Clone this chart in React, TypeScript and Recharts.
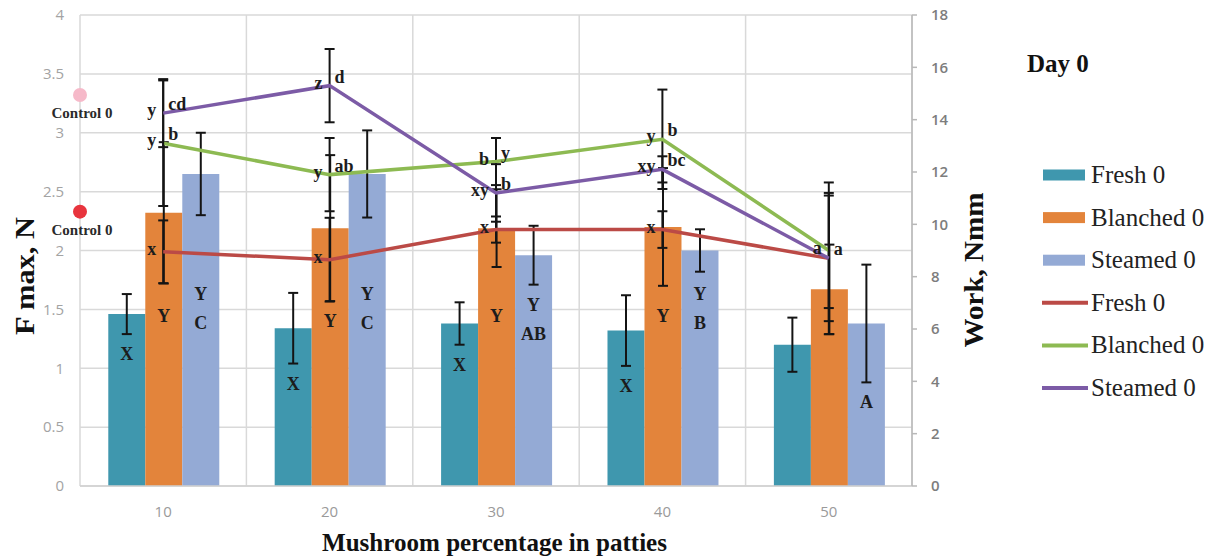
import React from "react";
import {
  ComposedChart,
  Bar,
  Line,
  Scatter,
  Cell,
  XAxis,
  YAxis,
  CartesianGrid,
  ErrorBar,
  LabelList,
} from "recharts";

const percentages = ["10", "20", "30", "40", "50"];

// F max, N (bars, left axis)
const fmaxFresh = [1.46, 1.34, 1.38, 1.32, 1.2];
const fmaxFreshErr = [0.17, 0.3, 0.18, 0.3, 0.23];
const fmaxBlanched = [2.32, 2.19, 2.19, 2.2, 1.67];
const fmaxBlanchedErr = [0.6, 0.62, 0.33, 0.5, 0.38];
const fmaxSteamed = [2.65, 2.65, 1.96, 2.0, 1.38];
const fmaxSteamedErr = [0.35, 0.37, 0.25, 0.18, 0.5];

// Work, Nmm (lines, right axis)
const workFresh = [8.95, 8.65, 9.8, 9.8, 8.7];
const workFreshErr = [1.2, 1.6, 0.5, 0.7, 2.9];
const workBlanched = [13.1, 11.9, 12.4, 13.25, 9.0];
const workBlanchedErr = [2.4, 1.4, 0.9, 1.9, 2.2];
const workSteamed = [14.25, 15.3, 11.2, 12.1, 8.7];
const workSteamedErr = [1.3, 1.4, 1.1, 0.5, 2.4];

// significance letters
const freshBarLetters = ["X", "X", "X", "X", ""];
const blanchedBarLetters = ["Y", "Y", "Y", "Y", ""];
const steamedBarLetters = ["Y", "Y", "Y", "Y", "A"];
const steamedBarSubLetters = ["C", "C", "AB", "B", ""];
const freshLineLeft = ["x", "x", "x", "x", ""];
const blanchedLineLeft = ["y", "y", "b", "y", "a"];
const blanchedLineRight = ["b", "ab", "y", "b", ""];
const steamedLineLeft = ["y", "z", "xy", "xy", ""];
const steamedLineRight = ["cd", "d", "b", "bc", "a"];

// control samples (left axis, drawn on the axis itself)
const controlValues = [3.32, 2.33];
const controlLabels = ["Control 0", "Control 0"];

const leftTicks = [0, 0.5, 1, 1.5, 2, 2.5, 3, 3.5, 4];
const rightTicks = [0, 2, 4, 6, 8, 10, 12, 14, 16, 18];
const slotTicks = [0, 1, 2, 3, 4, 5];

const legendLabels = ["Fresh 0", "Blanched 0", "Steamed 0", "Fresh 0", "Blanched 0", "Steamed 0"];

const data = percentages.map((pct, i) => ({
  pct,
  fresh: fmaxFresh[i],
  freshErr: fmaxFreshErr[i],
  blanched: fmaxBlanched[i],
  blanchedErr: fmaxBlanchedErr[i],
  steamed: fmaxSteamed[i],
  steamedErr: fmaxSteamedErr[i],
  wFresh: workFresh[i],
  wFreshErr: workFreshErr[i],
  wBlanched: workBlanched[i],
  wBlanchedErr: workBlanchedErr[i],
  wSteamed: workSteamed[i],
  wSteamedErr: workSteamedErr[i],
  freshLetter: freshBarLetters[i],
  blanchedLetter: blanchedBarLetters[i],
  steamedLetter: steamedBarLetters[i],
  wFreshL: freshLineLeft[i],
  wBlanchedL: blanchedLineLeft[i],
  wBlanchedR: blanchedLineRight[i],
  wSteamedL: steamedLineLeft[i],
  wSteamedR: steamedLineRight[i],
}));

const controlData = controlValues.map((v, i) => ({
  slot: 0,
  control: v,
  name: controlLabels[i],
}));

const serif = "Liberation Serif, Times New Roman, serif";
const sans = "Open Sans, Liberation Sans, sans-serif";

const colors = {
  fresh: "#3f97ae",
  blanched: "#e3843b",
  steamed: "#94aad5",
  wFresh: "#bb4a46",
  wBlanched: "#8dba52",
  wSteamed: "#7c5ba6",
};
const controlColors = ["#f6b9c9", "#e8343d"];
const legendColors = [colors.fresh, colors.blanched, colors.steamed, colors.wFresh, colors.wBlanched, colors.wSteamed];

function box(p: any) {
  const vb = p.viewBox ?? {};
  return {
    x: Number(p.x ?? vb.x ?? 0),
    y: Number(p.y ?? vb.y ?? 0),
    width: Number(p.width ?? vb.width ?? 0),
    height: Number(p.height ?? vb.height ?? 0),
  };
}

const letterStyle = {
  fontFamily: serif,
  fontWeight: 700,
  fontSize: 18,
  fill: "#1c1c1c",
};

// letter under the error bar of a bar; floor keeps it from climbing too high
function barLetter(values: number[], errs: number[], floor: number | null, subs?: string[]) {
  return (p: any) => {
    if (!p.value) return null;
    const b = box(p);
    const i = p.index ?? 0;
    const perUnit = b.height / values[i];
    let cy = b.y + perUnit * errs[i] + 20;
    if (floor !== null) cy = Math.max(cy, b.y + b.height - floor);
    const cx = b.x + b.width / 2;
    return (
      <g>
        <text x={cx} y={cy} textAnchor="middle" dominantBaseline="central" style={letterStyle}>
          {p.value}
        </text>
        {subs && subs[i] ? (
          <text x={cx} y={cy + 29} textAnchor="middle" dominantBaseline="central" style={letterStyle}>
            {subs[i]}
          </text>
        ) : null}
      </g>
    );
  };
}

function pointLetter(side: "left" | "right") {
  return (p: any) => {
    if (!p.value) return null;
    const b = box(p);
    const left = side === "left";
    return (
      <text
        x={left ? b.x - 7 : b.x + 5}
        y={left ? b.y - 3 : b.y - 9}
        textAnchor={left ? "end" : "start"}
        dominantBaseline="central"
        style={letterStyle}
      >
        {p.value}
      </text>
    );
  };
}

function controlLabel(p: any) {
  const b = box(p);
  const cx = b.x + b.width / 2;
  const cy = b.y + b.height / 2;
  return (
    <text
      x={cx + 2}
      y={cy + 18}
      textAnchor="middle"
      dominantBaseline="central"
      style={{ fontFamily: serif, fontWeight: 700, fontSize: 15, fill: "#2a2a2a" }}
    >
      {p.value}
    </text>
  );
}

const titleStyle = { fontFamily: serif, fontWeight: 700, fill: "#111" };
const legendTextStyle = { fontFamily: serif, fontWeight: 400, fontSize: 25, fill: "#222" };

export default function App() {
  return (
    <div style={{ position: "absolute", left: 0, top: 0, width: 1222, height: 558, background: "#fff" }}>
      <ComposedChart
        width={1222}
        height={558}
        data={data}
        margin={{ top: 15, right: 0, bottom: 0, left: 0 }}
        barCategoryGap="17%"
        barGap={0}
      >
        <XAxis xAxisId="num" type="number" dataKey="slot" domain={[0, 5]} ticks={slotTicks} hide />
        <CartesianGrid xAxisId="num" yAxisId="left" stroke="#d9d9d9" strokeWidth={1.5} />
        <XAxis
          dataKey="pct"
          height={72}
          stroke="#d0d0d0"
          strokeWidth={1.5}
          tickLine={false}
          tickSize={0}
          tickMargin={20}
          tick={{ fill: "#9a9a9a", fontSize: 15, fontFamily: sans }}
        />
        <YAxis
          yAxisId="left"
          width={80}
          domain={[0, 4]}
          ticks={leftTicks}
          axisLine={false}
          tickLine={false}
          tickSize={0}
          tickMargin={16}
          tick={{ fill: "#a3a3a3", fontSize: 15, fontFamily: sans }}
        />
        <YAxis
          yAxisId="right"
          orientation="right"
          width={310}
          domain={[0, 18]}
          ticks={rightTicks}
          stroke="#b8b8b8"
          strokeWidth={1.5}
          tickSize={5}
          tickMargin={14}
          tick={{ fill: "#7d7d7d", fontSize: 15, fontFamily: sans, fontWeight: 600 }}
        />

        <Bar yAxisId="left" dataKey="fresh" fill={colors.fresh} isAnimationActive={false}>
          <ErrorBar dataKey="freshErr" width={5} stroke="#141414" strokeWidth={2} />
          <LabelList dataKey="freshLetter" content={barLetter(fmaxFresh, fmaxFreshErr, null)} />
        </Bar>
        <Bar yAxisId="left" dataKey="blanched" fill={colors.blanched} isAnimationActive={false}>
          <ErrorBar dataKey="blanchedErr" width={5} stroke="#141414" strokeWidth={2} />
          <LabelList dataKey="blanchedLetter" content={barLetter(fmaxBlanched, fmaxBlanchedErr, 170)} />
        </Bar>
        <Bar yAxisId="left" dataKey="steamed" fill={colors.steamed} isAnimationActive={false}>
          <ErrorBar dataKey="steamedErr" width={5} stroke="#141414" strokeWidth={2} />
          <LabelList
            dataKey="steamedLetter"
            content={barLetter(fmaxSteamed, fmaxSteamedErr, 192, steamedBarSubLetters)}
          />
        </Bar>

        <Line
          yAxisId="right"
          dataKey="wFresh"
          stroke={colors.wFresh}
          strokeWidth={3.5}
          dot={false}
          isAnimationActive={false}
        >
          <ErrorBar dataKey="wFreshErr" width={5} stroke="#141414" strokeWidth={2} />
          <LabelList dataKey="wFreshL" content={pointLetter("left")} />
        </Line>
        <Line
          yAxisId="right"
          dataKey="wBlanched"
          stroke={colors.wBlanched}
          strokeWidth={3.5}
          dot={false}
          isAnimationActive={false}
        >
          <ErrorBar dataKey="wBlanchedErr" width={5} stroke="#141414" strokeWidth={2} />
          <LabelList dataKey="wBlanchedL" content={pointLetter("left")} />
          <LabelList dataKey="wBlanchedR" content={pointLetter("right")} />
        </Line>
        <Line
          yAxisId="right"
          dataKey="wSteamed"
          stroke={colors.wSteamed}
          strokeWidth={3.5}
          dot={false}
          isAnimationActive={false}
        >
          <ErrorBar dataKey="wSteamedErr" width={5} stroke="#141414" strokeWidth={2} />
          <LabelList dataKey="wSteamedL" content={pointLetter("left")} />
          <LabelList dataKey="wSteamedR" content={pointLetter("right")} />
        </Line>

        <Scatter
          data={controlData}
          xAxisId="num"
          yAxisId="left"
          dataKey="control"
          isAnimationActive={false}
          shape={(p: any) => <circle cx={p.cx} cy={p.cy} r={7} fill={p.fill} />}
        >
          {controlData.map((_, i) => (
            <Cell key={i} fill={controlColors[i]} />
          ))}
          <LabelList dataKey="name" content={controlLabel} />
        </Scatter>
      </ComposedChart>

      <svg
        width={1222}
        height={558}
        style={{ position: "absolute", left: 0, top: 0, pointerEvents: "none" }}
      >
        <text
          x={34}
          y={276}
          transform="rotate(-90 34 276)"
          textAnchor="middle"
          fontSize={28}
          textLength={118}
          lengthAdjust="spacingAndGlyphs"
          style={titleStyle}
        >
          F max, N
        </text>
        <text
          x={983}
          y={270}
          transform="rotate(-90 983 270)"
          textAnchor="middle"
          fontSize={27}
          textLength={155}
          lengthAdjust="spacingAndGlyphs"
          style={titleStyle}
        >
          Work, Nmm
        </text>
        <text
          x={494.5}
          y={551}
          textAnchor="middle"
          fontSize={25}
          textLength={345}
          lengthAdjust="spacingAndGlyphs"
          style={titleStyle}
        >
          Mushroom percentage in patties
        </text>
        <text x={1027} y={72} fontSize={25} style={titleStyle}>
          Day 0
        </text>
        {legendLabels.map((name, i) => {
          const cy = 175 + i * 42.6;
          return (
            <g key={i}>
              {i < 3 ? (
                <rect x={1043} y={cy - 5.5} width={42} height={11} fill={legendColors[i]} />
              ) : (
                <line x1={1042} x2={1088} y1={cy} y2={cy} stroke={legendColors[i]} strokeWidth={4} />
              )}
              <text x={1091} y={cy + 8} style={legendTextStyle}>
                {name}
              </text>
            </g>
          );
        })}
      </svg>
    </div>
  );
}
